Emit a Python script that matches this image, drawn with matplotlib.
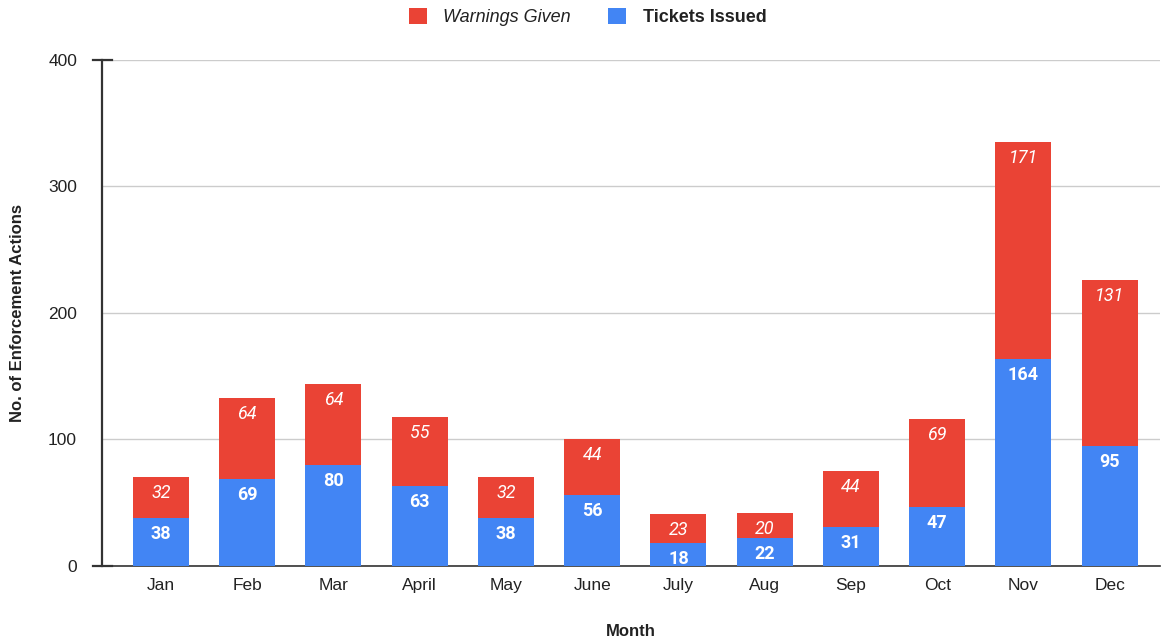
import matplotlib.pyplot as plt
import numpy as np

months = ["Jan", "Feb", "Mar", "April", "May", "June", "July", "Aug", "Sep", "Oct", "Nov", "Dec"]
tickets = [38, 69, 80, 63, 38, 56, 18, 22, 31, 47, 164, 95]
warnings = [32, 64, 64, 55, 32, 44, 23, 20, 44, 69, 171, 131]

blue = "#4285F4"
red = "#EA4335"

plt.rcParams['font.family'] = ['Liberation Sans', 'DejaVu Sans']

fig = plt.figure(figsize=(11.61, 6.43), dpi=100)
ax = fig.add_axes([0.0879, 0.1198, 0.911, 0.7869])

x = np.arange(len(months))
b1 = ax.bar(x, tickets, width=0.65, color=blue, zorder=3, label="Tickets Issued")
b2 = ax.bar(x, warnings, width=0.65, bottom=tickets, color=red, zorder=3, label="Warnings Given")

# value labels, just inside the top of each segment
for i in range(len(months)):
    ax.annotate(str(tickets[i]), (x[i], tickets[i]), xytext=(0, -16), textcoords='offset pixels',
                ha='center', va='center', color='white', fontsize=13, fontweight='bold',
                family='Roboto', zorder=4)
    ax.annotate(str(warnings[i]), (x[i], tickets[i] + warnings[i]), xytext=(0, -16),
                textcoords='offset pixels', ha='center', va='center', color='white',
                fontsize=13, fontstyle='italic', family='Roboto', zorder=4)

ax.set_xlim(-0.683, 11.58)
ax.set_ylim(0, 400)
ax.set_yticks([0, 100, 200, 300, 400])
ax.set_xticks(x)
ax.set_xticklabels(months)
ax.yaxis.grid(True, color="#cccccc", linewidth=1, zorder=0)
ax.tick_params(axis='y', length=0, labelsize=12.5, colors="#222222", pad=18)
ax.tick_params(axis='x', length=0, labelsize=12.5, colors="#222222", pad=9)
for y in [0, 400]:
    ax.plot([-0.79, -0.57], [y, y], color="#333333", lw=1.6, clip_on=False, zorder=5)

for s in ['top', 'right']:
    ax.spines[s].set_visible(False)
ax.spines['left'].set_color("#333333")
ax.spines['left'].set_linewidth(1.6)
ax.spines['bottom'].set_color("#333333")
ax.spines['bottom'].set_linewidth(1.2)

ax.set_xlabel("Month", fontsize=12, fontweight='bold', color="#222222")
ax.set_ylabel("No. of Enforcement Actions", fontsize=12, fontweight='bold', color="#222222")
ax.yaxis.set_label_coords(-0.073, 0.5)
ax.xaxis.set_label_coords(0.5, -0.114)

leg = fig.legend(handles=[b2, b1], labels=["Warnings Given", "Tickets Issued"], loc='center',
                 bbox_to_anchor=(0.506, 0.974), ncol=2, frameon=False, fontsize=13,
                 handlelength=1.0, handleheight=1.0, columnspacing=2.1, handletextpad=0.9)
leg.get_texts()[0].set_fontstyle('italic')
leg.get_texts()[0].set_color("#222222")
leg.get_texts()[1].set_fontweight('bold')
leg.get_texts()[1].set_color("#222222")

fig.savefig("out.png", dpi=100)
